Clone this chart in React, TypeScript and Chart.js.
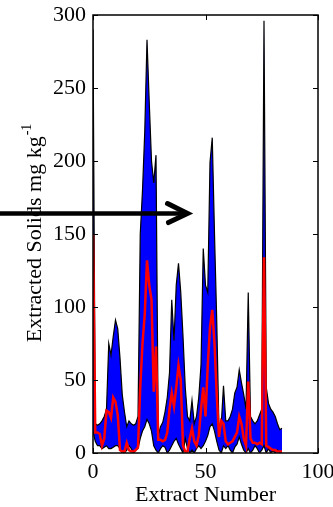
import React, { useEffect, useRef } from 'react';
import { Chart, registerables } from 'chart.js';

Chart.register(...registerables);

// ---- data ----
const extractNumbers = [
  0, 1, 2, 3, 4, 5, 6, 7, 8, 9, 10, 11, 12, 13, 14, 15, 16, 17, 18, 19,
  20, 21, 22, 23, 24, 25, 26, 27, 28, 29, 30, 31, 32, 33, 34, 35, 36, 37, 38, 39,
  40, 41, 42, 43, 44, 45, 46, 47, 48, 49, 50, 51, 52, 53, 54, 55, 56, 57, 58, 59,
  60, 61, 62, 63, 64, 65, 66, 67, 68, 69, 70, 71, 72, 73, 74, 75, 76, 77, 78, 79,
  80, 81, 82, 83, 84,
];

const upperSolids = [
  290, 20, 19, 20, 22, 25, 30, 75, 67, 80, 91, 85, 65, 40, 28, 18, 22, 20, 19, 20,
  25, 150, 180, 220, 283, 240, 200, 185, 204, 12, 18, 21, 28, 38, 55, 105, 77, 115, 130, 110,
  80, 45, 25, 22, 36, 20, 25, 38, 60, 140, 115, 110, 199, 216, 150, 90, 15, 20, 46, 22,
  22, 25, 30, 41, 45, 57, 48, 40, 30, 110, 25, 22, 20, 22, 26, 30, 296, 45, 34, 30,
  28, 25, 20, 16, 17,
];

const lowerSolids = [
  15, 8, 5, 5, 3, 4, 5, 3, 3, 4, 5, 5, 3, 0, 0, 2, 5, 3, 0, 2,
  3, 10, 15, 18, 23, 20, 15, 5, 2, 0, 3, 5, 4, 0, 2, 5, 8, 10, 6, 3,
  0, 10, 3, 0, 2, 0, 3, 5, 3, 5, 8, 12, 18, 20, 15, 8, 2, 0, 5, 3,
  5, 2, 0, 4, 6, 11, 6, 2, 0, 3, 0, 2, 5, 3, 0, 2, 5, 0, 3, 0,
  2, 0, 2, 0, 0,
];

const meanSolids = [
  150, 14, 14, 13, 5, 10, 29, 28, 24, 38, 35, 26, 2, 1, 1, 7, 2, 1, 1, 2,
  4, 45, 75, 95, 132, 115, 105, 42, 73, 9, 9, 8, 9, 14, 30, 41, 32, 45, 60, 50,
  5, 1, 1, 10, 17, 8, 5, 12, 30, 45, 25, 60, 86, 98, 75, 40, 11, 22, 20, 8,
  6, 7, 8, 11, 14, 25, 20, 10, 5, 49, 10, 7, 7, 6, 7, 6, 134, 5, 4, 3,
  2, 2, 1, 1, 1,
];

const xTicks = [0, 50, 100];
const yTicks = [0, 50, 100, 150, 200, 250, 300];
const xAxisTitle = 'Extract Number';
const yAxisTitle = 'Extracted Solids mg kg';
const yAxisTitleSup = '-1';
const arrowTip = { x: 42, y: 164 };

const FONT = '"Liberation Serif", "Times New Roman", serif';
const FS = 22;

const framePlugin = {
  id: 'frameAndNotes',
  afterDatasetsDraw(chart: any) {
    const { ctx, chartArea: a, scales } = chart;
    ctx.save();
    ctx.strokeStyle = '#000';
    ctx.lineWidth = 1;
    const tl = 5;
    ctx.beginPath();
    yTicks.forEach((v) => {
      const y = Math.round(scales.y.getPixelForValue(v)) + 0.5;
      ctx.moveTo(a.left, y);
      ctx.lineTo(a.left + tl, y);
      ctx.moveTo(a.right, y);
      ctx.lineTo(a.right - tl, y);
    });
    xTicks.forEach((v) => {
      const x = Math.round(scales.x.getPixelForValue(v)) + 0.5;
      ctx.moveTo(x, a.bottom);
      ctx.lineTo(x, a.bottom - tl);
      ctx.moveTo(x, a.top);
      ctx.lineTo(x, a.top + tl);
    });
    ctx.stroke();
    ctx.lineWidth = 1.5;
    ctx.strokeRect(a.left, a.top, a.right - a.left, a.bottom - a.top);
    ctx.restore();
  },
  afterDraw(chart: any) {
    const { ctx, chartArea: a, scales } = chart;
    // y-axis title with superscript
    ctx.save();
    ctx.fillStyle = '#000';
    ctx.font = `${FS}px ${FONT}`;
    const w1 = ctx.measureText(yAxisTitle).width;
    ctx.font = `14px ${FONT}`;
    const w2 = ctx.measureText(yAxisTitleSup).width;
    ctx.translate(41, (a.top + a.bottom) / 2 - 1);
    ctx.rotate(-Math.PI / 2);
    const start = -(w1 + w2 + 1) / 2;
    ctx.textAlign = 'left';
    ctx.textBaseline = 'alphabetic';
    ctx.font = `${FS}px ${FONT}`;
    ctx.fillText(yAxisTitle, start, 0);
    ctx.font = `14px ${FONT}`;
    ctx.fillText(yAxisTitleSup, start + w1 + 1, -10);
    ctx.restore();

    // arrow annotation
    const tx = scales.x.getPixelForValue(arrowTip.x);
    const ty = scales.y.getPixelForValue(arrowTip.y);
    ctx.save();
    ctx.strokeStyle = '#000';
    ctx.lineWidth = 4.5;
    ctx.beginPath();
    ctx.moveTo(0, ty);
    ctx.lineTo(tx - 2, ty);
    ctx.stroke();
    ctx.lineWidth = 5;
    ctx.lineCap = 'round';
    ctx.lineJoin = 'miter';
    ctx.beginPath();
    ctx.moveTo(tx - 20, ty - 10);
    ctx.lineTo(tx, ty);
    ctx.lineTo(tx - 19, ty + 9);
    ctx.stroke();
    ctx.restore();
  },
};

export default function App() {
  const canvasRef = useRef<HTMLCanvasElement | null>(null);

  useEffect(() => {
    if (!canvasRef.current) return;
    const pts = (vals: number[]) => extractNumbers.map((x, i) => ({ x, y: vals[i] }));
    const chart = new Chart(canvasRef.current, {
      type: 'line',
      data: {
        datasets: [
          {
            label: 'min',
            data: pts(lowerSolids),
            borderColor: '#000000',
            borderWidth: 1.2,
            pointRadius: 0,
            fill: false,
            tension: 0,
            order: 1,
          },
          {
            label: 'max',
            data: pts(upperSolids),
            borderColor: '#000000',
            borderWidth: 1.2,
            backgroundColor: '#0000ff',
            pointRadius: 0,
            fill: 0,
            tension: 0,
            order: 2,
          },
          {
            label: 'mean',
            data: pts(meanSolids),
            borderColor: '#ff0000',
            borderWidth: 2.5,
            pointRadius: 0,
            fill: false,
            tension: 0,
            order: 0,
          },
        ],
      },
      options: {
        responsive: false,
        animation: false,
        devicePixelRatio: 1,
        layout: { padding: { left: 0, right: 15, top: 15, bottom: 0 } },
        plugins: {
          legend: { display: false },
          tooltip: { enabled: false },
        },
        scales: {
          x: {
            type: 'linear',
            min: 0,
            max: 100,
            grid: { display: false, drawTicks: false },
            border: { display: false },
            ticks: {
              color: '#000',
              font: { family: FONT, size: FS },
              padding: 6,
              maxRotation: 0,
            },
            title: {
              display: true,
              text: xAxisTitle,
              color: '#000',
              font: { family: FONT, size: FS },
              padding: { top: 0, bottom: -1 },
            },
            afterBuildTicks: (s: any) => {
              s.ticks = xTicks.map((value) => ({ value }));
            },
            afterFit: (s: any) => {
              s.height = 54;
              s.paddingLeft = 0;
              s.paddingRight = 0;
            },
          },
          y: {
            type: 'linear',
            min: 0,
            max: 300,
            grid: { display: false, drawTicks: false },
            border: { display: false },
            ticks: {
              color: '#000',
              font: { family: FONT, size: FS },
              padding: 7,
            },
            afterBuildTicks: (s: any) => {
              s.ticks = yTicks.map((value) => ({ value }));
            },
            afterFit: (s: any) => {
              s.width = 93;
              s.paddingTop = 0;
              s.paddingBottom = 0;
            },
          },
        },
      },
      plugins: [framePlugin],
    });
    return () => chart.destroy();
  }, []);

  return (
    <div style={{ position: 'fixed', left: 0, top: 0, width: 333, height: 507, background: '#fff' }}>
      <canvas ref={canvasRef} width={333} height={507} style={{ display: 'block', width: 333, height: 507 }} />
    </div>
  );
}
